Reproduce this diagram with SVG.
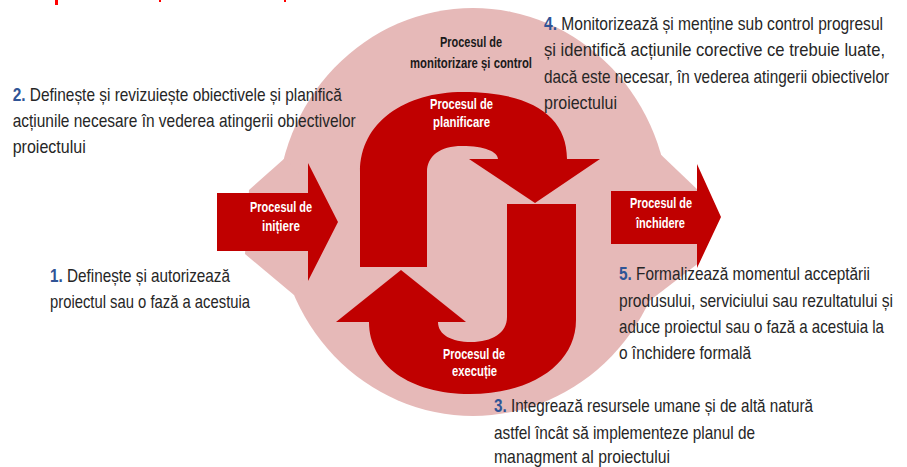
<svg xmlns="http://www.w3.org/2000/svg" width="907" height="467" viewBox="0 0 907 467">
<style>
.bg{fill:#ffffff}
.pink{fill:#E6B9B8}
.red{fill:#C00000}
.lbl{font-family:"Liberation Sans",Arial,sans-serif;font-weight:bold;font-size:14px;fill:#ffffff}
.lbl-dark{font-family:"Liberation Sans",Arial,sans-serif;font-weight:bold;font-size:14px;fill:#1a1a1a}
.body{font-family:"Liberation Sans",Arial,sans-serif;font-size:18px;fill:#262626}
.num{font-weight:bold;fill:#2F5496}
</style>
<rect class="bg" x="0" y="0" width="907" height="467"/>
<g id="title-fragment" fill="#FF0000">
<rect x="55" y="0" width="3" height="5"/>
<rect x="159" y="0" width="2" height="2"/>
<rect x="284" y="0" width="2" height="2"/>
</g>
<g id="background-circle">
<ellipse class="pink" cx="473" cy="212" rx="196" ry="204"/>
<polygon class="pink" points="285,158 249,190 245,254 294,295 340,220"/>
<polygon class="pink" points="656,150 700,192 700,262 648,302 600,220"/>
</g>
<g id="node-monitorizare">
<text class="lbl-dark" transform="translate(440,47) scale(0.79,1)" textLength="78.5" lengthAdjust="spacingAndGlyphs">Procesul de</text>
<text class="lbl-dark" transform="translate(410,67.5) scale(0.79,1)" textLength="154.4" lengthAdjust="spacingAndGlyphs">monitorizare și control</text>
</g>
<g id="node-initiere">
<path class="red" d="M217,193 L308,193 L308,163 L338,222 L308,281 L308,251 L217,251 Z"/>
<text class="lbl" transform="translate(250,211.5) scale(0.79,1)" textLength="78.5" lengthAdjust="spacingAndGlyphs">Procesul de</text>
<text class="lbl" transform="translate(262,231) scale(0.79,1)" textLength="48.1" lengthAdjust="spacingAndGlyphs">inițiere</text>
</g>
<g id="node-planificare">
<path class="red" d="M360,267 L360,172 C360,122 405,92 463,92 C530,92 567,115 567,159 L600,159 L535,203 L469,159 L498,159 C498,152 485,146 462,146 C440,146 427,156 427,172 L427,267 Z"/>
<text class="lbl" transform="translate(430,109) scale(0.79,1)" textLength="79.7" lengthAdjust="spacingAndGlyphs">Procesul de</text>
<text class="lbl" transform="translate(433,127) scale(0.79,1)" textLength="72.2" lengthAdjust="spacingAndGlyphs">planificare</text>
</g>
<g id="node-executie">
<path class="red" d="M507,204 L576,204 L576,320 C576,365 530,394 470,394 C410,394 369,365 369,322 L336,322 L401,270 L466,322 L438,322 C438,335 452,342 471,342 C492,342 507,333 507,317 Z"/>
<text class="lbl" transform="translate(443,358.5) scale(0.79,1)" textLength="78.5" lengthAdjust="spacingAndGlyphs">Procesul de</text>
<text class="lbl" transform="translate(452,376) scale(0.79,1)" textLength="57" lengthAdjust="spacingAndGlyphs">execuție</text>
</g>
<g id="node-inchidere">
<path class="red" d="M611,191 L697,191 L697,164 L721,217 L697,268 L697,244 L611,244 Z"/>
<text class="lbl" transform="translate(630,208) scale(0.79,1)" textLength="78.5" lengthAdjust="spacingAndGlyphs">Procesul de</text>
<text class="lbl" transform="translate(636,228) scale(0.79,1)" textLength="62" lengthAdjust="spacingAndGlyphs">închidere</text>
</g>
<g id="connectors"></g>
<g id="desc-2">
<text class="body" transform="translate(12.7,100.5) scale(0.86,1)" textLength="382.6" lengthAdjust="spacingAndGlyphs"><tspan class="num">2.</tspan> Definește și revizuiește obiectivele și planifică</text>
<text class="body" transform="translate(12.7,127) scale(0.86,1)" textLength="398.8" lengthAdjust="spacingAndGlyphs">acțiunile necesare în vederea atingerii obiectivelor</text>
<text class="body" transform="translate(12.7,153) scale(0.86,1)" textLength="84.9" lengthAdjust="spacingAndGlyphs">proiectului</text>
</g>
<g id="desc-4">
<text class="body" transform="translate(544,29.5) scale(0.86,1)" textLength="394.2" lengthAdjust="spacingAndGlyphs"><tspan class="num">4.</tspan> Monitorizează și menține sub control progresul</text>
<text class="body" transform="translate(544,56) scale(0.86,1)" textLength="396.5" lengthAdjust="spacingAndGlyphs">și identifică acțiunile corective ce trebuie luate,</text>
<text class="body" transform="translate(544,82.5) scale(0.86,1)" textLength="401.2" lengthAdjust="spacingAndGlyphs">dacă este necesar, în vederea atingerii obiectivelor</text>
<text class="body" transform="translate(544,109) scale(0.86,1)" textLength="84.9" lengthAdjust="spacingAndGlyphs">proiectului</text>
</g>
<g id="desc-1">
<text class="body" transform="translate(50,281.5) scale(0.86,1)" textLength="209.3" lengthAdjust="spacingAndGlyphs"><tspan class="num">1.</tspan> Definește și autorizează</text>
<text class="body" transform="translate(50,307.5) scale(0.86,1)" textLength="232.6" lengthAdjust="spacingAndGlyphs">proiectul sau o fază a acestuia</text>
</g>
<g id="desc-5">
<text class="body" transform="translate(619,280) scale(0.86,1)" textLength="291.9" lengthAdjust="spacingAndGlyphs"><tspan class="num">5.</tspan> Formalizează momentul acceptării</text>
<text class="body" transform="translate(619,306.5) scale(0.86,1)" textLength="318.6" lengthAdjust="spacingAndGlyphs">produsului, serviciului sau rezultatului și</text>
<text class="body" transform="translate(619,333) scale(0.86,1)" textLength="308.1" lengthAdjust="spacingAndGlyphs">aduce proiectul sau o fază a acestuia la</text>
<text class="body" transform="translate(619,359) scale(0.86,1)" textLength="153.5" lengthAdjust="spacingAndGlyphs">o închidere formală</text>
</g>
<g id="desc-3">
<text class="body" transform="translate(494,412) scale(0.86,1)" textLength="370.9" lengthAdjust="spacingAndGlyphs"><tspan class="num">3.</tspan> Integrează resursele umane și de altă natură</text>
<text class="body" transform="translate(494,438.5) scale(0.86,1)" textLength="303.5" lengthAdjust="spacingAndGlyphs">astfel încât să implementeze planul de</text>
<text class="body" transform="translate(494,462.5) scale(0.86,1)" textLength="204.7" lengthAdjust="spacingAndGlyphs">managment al proiectului</text>
</g>
</svg>
